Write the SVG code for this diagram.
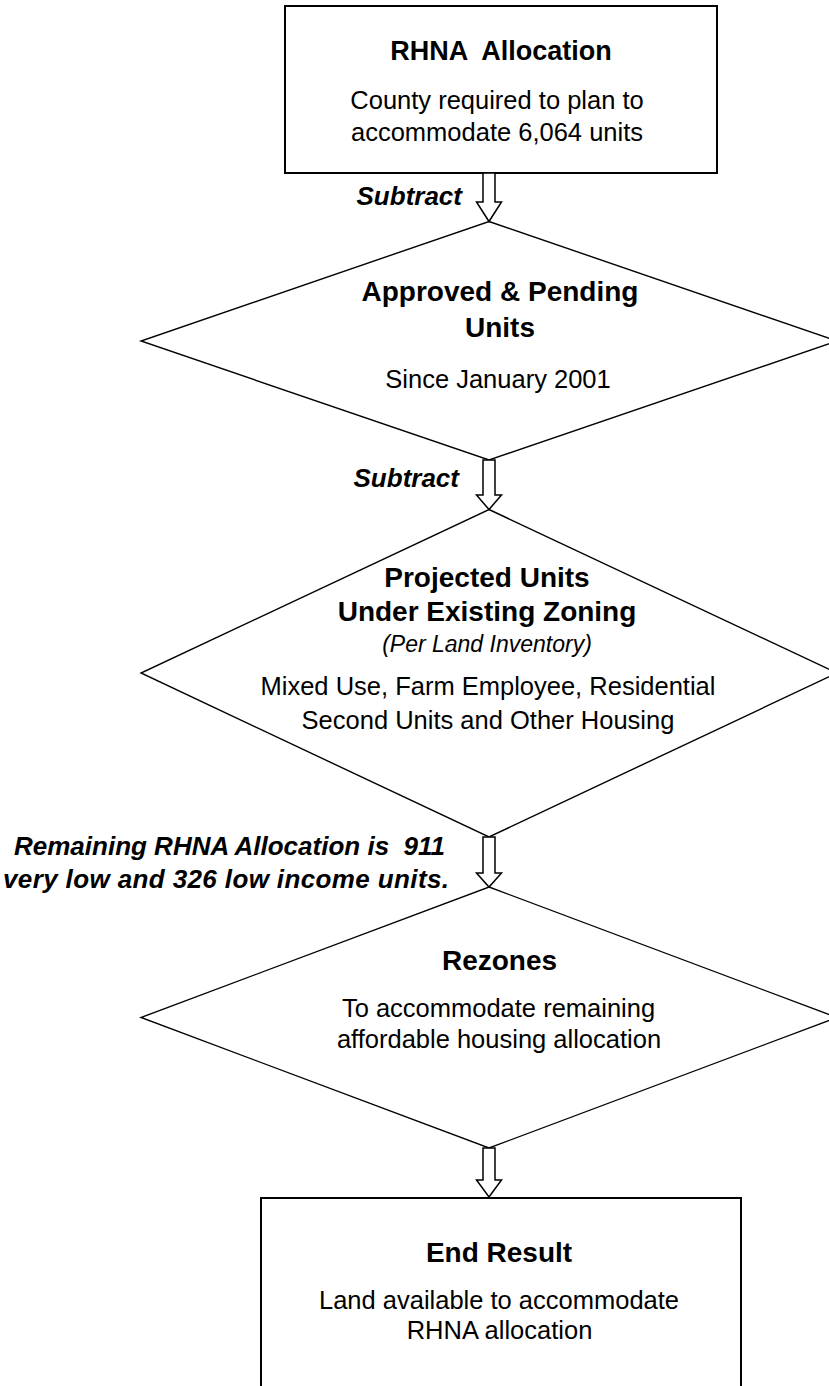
<svg xmlns="http://www.w3.org/2000/svg" width="829" height="1386" viewBox="0 0 829 1386">
<style>
text{font-family:"Liberation Sans",Arial,Helvetica,sans-serif;fill:#000;text-anchor:middle}
.t{font-weight:bold;font-size:28px}
.b{font-size:25.5px}
.lbl{font-weight:bold;font-style:italic;font-size:26px;text-anchor:end}
.it{font-style:italic;font-size:23px}
.box{fill:#fff;stroke:#000;stroke-width:2}
.dia{fill:#fff;stroke:#000;stroke-width:1.4}
.arr{fill:#fff;stroke:#000;stroke-width:1.5;stroke-linejoin:miter}
</style>
<rect width="829" height="1386" fill="#fff"/>
<g id="rhna">
<rect class="box" x="285" y="6" width="432" height="167"/>
<text class="t" x="501" y="60" style="font-size:27px" xml:space="preserve">RHNA  Allocation</text>
<text class="b" x="497" y="109">County required to plan to</text>
<text class="b" x="497" y="141">accommodate 6,064 units</text>
</g>
<g id="approved">
<polygon class="dia" points="489,221.5 837,341 489,460 141,341"/>
<text class="t" x="500" y="301">Approved &amp; Pending</text>
<text class="t" x="500" y="337">Units</text>
<text class="b" x="498" y="388">Since January 2001</text>
</g>
<g id="projected">
<polygon class="dia" points="489,509.5 837,673 489,837 141,673"/>
<text class="t" x="487" y="587">Projected Units</text>
<text class="t" x="487" y="621">Under Existing Zoning</text>
<text class="it" x="487" y="652">(Per Land Inventory)</text>
<text class="b" x="488" y="695">Mixed Use, Farm Employee, Residential</text>
<text class="b" x="488" y="729">Second Units and Other Housing</text>
</g>
<g id="rezones">
<polygon class="dia" points="489,887 837,1017.5 489,1148 141,1017.5"/>
<text class="t" x="499.5" y="970">Rezones</text>
<text class="b" x="498.5" y="1017">To accommodate remaining</text>
<text class="b" x="499" y="1048">affordable housing allocation</text>
</g>
<g id="end">
<rect class="box" x="261" y="1198" width="480" height="200"/>
<text class="t" x="499" y="1262">End Result</text>
<text class="b" x="499" y="1309">Land available to accommodate</text>
<text class="b" x="499.5" y="1339">RHNA allocation</text>
</g>
<g id="connectors">
<polygon class="arr" points="483,173 495,173 495,202 501.5,202 489,221.5 476.5,202 483,202"/>
<polygon class="arr" points="483,460 495,460 495,495 501.5,495 489,509.5 476.5,495 483,495"/>
<polygon class="arr" points="483,837 495,837 495,873 501.5,873 489,887 476.5,873 483,873"/>
<polygon class="arr" points="483,1148 495,1148 495,1180 501.5,1180 489,1197 476.5,1180 483,1180"/>
<text class="lbl" x="462" y="205">Subtract</text>
<text class="lbl" x="459" y="487">Subtract</text>
<text class="lbl" x="445" y="855" xml:space="preserve">Remaining RHNA Allocation is  911</text>
<text class="lbl" x="449" y="888" textLength="446" lengthAdjust="spacing">very low and 326 low income units.</text>
</g>
</svg>
